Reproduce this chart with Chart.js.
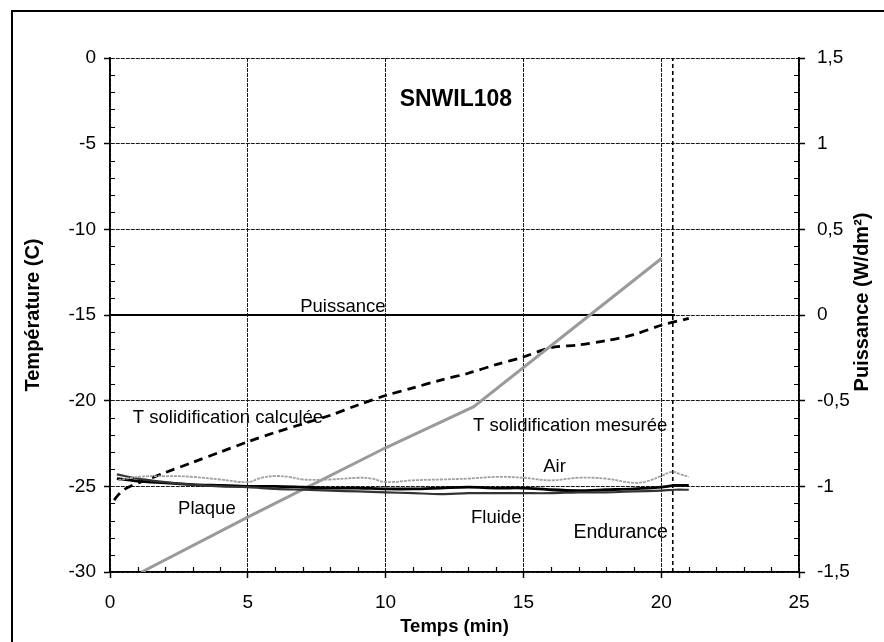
<!DOCTYPE html>
<html>
<head>
<meta charset="utf-8">
<title>SNWIL108</title>
<script src="https://cdn.jsdelivr.net/npm/chart.js@4.4.0/dist/chart.umd.min.js"></script>
<style>
  html, body { margin: 0; padding: 0; background: #fff; }
  canvas { display: block; }
</style>
</head>
<body>
<canvas id="chart" width="884" height="642"></canvas>
<script>
// --- Series (time in min, temperature in C, power in W/dm2) ---
const calcTimes = [0.15, 0.3, 0.5, 0.8, 1.2, 2, 3, 4, 5, 6, 7, 8, 9, 10, 11, 12, 13, 14, 15, 16, 17, 18, 19, 20, 21];
const calcTemps = [-25.8, -25.5, -25.2, -24.95, -24.7, -24.2, -23.6, -23.0, -22.4, -21.85, -21.35, -20.85, -20.25, -19.7, -19.25, -18.8, -18.4, -17.9, -17.45, -16.9, -16.75, -16.5, -16.15, -15.6, -15.2];

const mesTimes = [1.15, 5, 10, 13.2, 20.02];
const mesTemps = [-30, -26.8, -22.75, -20.35, -11.69];

const airTimes = [0.3, 1, 2, 3, 4, 5, 5.5, 6, 6.5, 7, 8, 9, 9.5, 10, 11, 12, 13, 14, 15, 16, 17, 18, 19, 19.5, 20, 20.4, 20.7, 21];
const airTemps = [-24.65, -24.45, -24.4, -24.45, -24.6, -24.75, -24.5, -24.4, -24.45, -24.6, -24.6, -24.5, -24.55, -24.75, -24.65, -24.6, -24.55, -24.45, -24.5, -24.65, -24.5, -24.55, -24.8, -24.7, -24.4, -24.15, -24.3, -24.45];

const probeTimes = [0.25, 1, 2, 3, 4, 5, 6, 7, 8, 9, 10, 11, 12, 13, 14, 15, 16, 17, 18, 19, 20, 20.5, 21];
const plaqueTemps = [-24.55, -24.7, -24.8, -24.9, -24.95, -25.0, -25.0, -25.05, -25.1, -25.1, -25.15, -25.15, -25.1, -25.05, -25.1, -25.1, -25.2, -25.25, -25.2, -25.15, -25.05, -24.95, -24.95];
const fluideTemps = [-24.3, -24.55, -24.75, -24.9, -25.0, -25.05, -25.15, -25.2, -25.25, -25.3, -25.35, -25.4, -25.45, -25.4, -25.4, -25.4, -25.4, -25.35, -25.35, -25.3, -25.25, -25.2, -25.2];

const puissanceTimes = [0, 20.5];
const puissanceValues = [0, 0];

const enduranceTime = 20.42;
const enduranceSpan = [-30, 0];

// in-plot labels, placed in data units (x: min, y: C)
const notes = [
  { text: 'SNWIL108', x: 12.55, y: -2.45, align: 'center', bold: true, size: 23 },
  { text: 'Puissance', x: 6.9, y: -14.55, align: 'left' },
  { text: 'T solidification calculée', x: 0.83, y: -21.0, align: 'left' },
  { text: 'T solidification mesurée', x: 13.17, y: -21.45, align: 'left' },
  { text: 'Air', x: 15.72, y: -23.88, align: 'left' },
  { text: 'Plaque', x: 2.47, y: -26.33, align: 'left' },
  { text: 'Fluide', x: 13.1, y: -26.85, align: 'left' },
  { text: 'Endurance', x: 20.24, y: -27.73, align: 'right', size: 19.5 }
];

const FONT = '"Liberation Sans", Arial, sans-serif';
const pts = (xs, ys) => xs.map((x, i) => ({ x: x, y: ys[i] }));

// frame, axis titles, minor ticks and labels
const decorations = {
  id: 'decorations',
  beforeDraw(chart) {
    const ctx = chart.ctx;
    ctx.save();
    ctx.fillStyle = '#fff';
    ctx.fillRect(0, 0, chart.width, chart.height);
    ctx.strokeStyle = '#000';
    ctx.lineWidth = 2;
    ctx.beginPath();
    ctx.moveTo(12, chart.height);
    ctx.lineTo(12, 11);
    ctx.lineTo(chart.width, 11);
    ctx.stroke();
    ctx.restore();
  },
  afterDraw(chart) {
    const ctx = chart.ctx;
    const { left, right, top, bottom } = chart.chartArea;
    const x = chart.scales.x, y = chart.scales.y, y1 = chart.scales.y1;
    ctx.save();
    ctx.strokeStyle = '#000';
    ctx.lineWidth = 1.2;
    ctx.beginPath();
    for (let v = -29; v < 0; v++) {
      if (v % 5 === 0) continue;
      const py = Math.round(y.getPixelForValue(v)) + 0.5;
      ctx.moveTo(left, py); ctx.lineTo(left + 5, py);
    }
    for (let k = -14; k < 15; k++) {
      if (k % 5 === 0) continue;
      const py = Math.round(y1.getPixelForValue(k / 10)) + 0.5;
      ctx.moveTo(right, py); ctx.lineTo(right - 5, py);
    }
    for (let v = 1; v < 25; v++) {
      if (v % 5 === 0) continue;
      const px = Math.round(x.getPixelForValue(v)) + 0.5;
      ctx.moveTo(px, bottom); ctx.lineTo(px, bottom - 5);
    }
    ctx.stroke();

    // axis titles
    ctx.fillStyle = '#000';
    ctx.textAlign = 'center';
    ctx.textBaseline = 'middle';
    ctx.font = 'bold 18.5px ' + FONT;
    ctx.fillText('Temps (min)', (left + right) / 2, bottom + 55);
    ctx.font = 'bold 20px ' + FONT;
    ctx.save();
    ctx.translate(left - 77, (top + bottom) / 2);
    ctx.rotate(-Math.PI / 2);
    ctx.fillText('Température (C)', 0, 0);
    ctx.restore();
    ctx.save();
    ctx.translate(right + 63, (top + bottom) / 2 - 13);
    ctx.rotate(-Math.PI / 2);
    ctx.fillText('Puissance (W/dm²)', 0, 0);
    ctx.restore();

    // labels inside the plot
    notes.forEach(n => {
      ctx.font = (n.bold ? 'bold ' : '') + (n.size || 18.5) + 'px ' + FONT;
      ctx.textAlign = n.align;
      ctx.fillText(n.text, x.getPixelForValue(n.x), y.getPixelForValue(n.y));
    });
    ctx.restore();
  }
};

const gridStyle = { color: '#1a1a1a', lineWidth: 1, tickLength: 6, tickColor: '#000', tickWidth: 1.5 };
const tickFont = { family: FONT, size: 19 };

new Chart(document.getElementById('chart'), {
  type: 'line',
  data: {
    datasets: [
      { label: 'Air', data: pts(airTimes, airTemps), borderColor: '#a0a0a0', borderWidth: 1.8, borderDash: [3, 1], tension: 0.4, yAxisID: 'y' },
      { label: 'Fluide', data: pts(probeTimes, fluideTemps), borderColor: '#333', borderWidth: 2.2, tension: 0.3, yAxisID: 'y' },
      { label: 'Plaque', data: pts(probeTimes, plaqueTemps), borderColor: '#000', borderWidth: 2.8, tension: 0.3, yAxisID: 'y' },
      { label: 'T solidification mesurée', data: pts(mesTimes, mesTemps), borderColor: '#9a9a9a', borderWidth: 3, tension: 0, yAxisID: 'y' },
      { label: 'T solidification mesurée (centre)', data: pts(mesTimes, mesTemps), borderColor: '#f4f4f4', borderWidth: 1.2, tension: 0, yAxisID: 'y' },
      { label: 'T solidification calculée', data: pts(calcTimes, calcTemps), borderColor: '#000', borderWidth: 2.8, borderDash: [9, 6], tension: 0.3, yAxisID: 'y' },
      { label: 'Puissance', data: pts(puissanceTimes, puissanceValues), borderColor: '#000', borderWidth: 1.8, tension: 0, yAxisID: 'y1' },
      { label: 'Endurance', data: enduranceSpan.map(v => ({ x: enduranceTime, y: v })), borderColor: '#000', borderWidth: 1.6, borderDash: [4, 3], tension: 0, yAxisID: 'y' }
    ]
  },
  options: {
    responsive: false,
    animation: false,
    devicePixelRatio: 1,
    layout: { padding: { top: 58, left: 0, right: 0, bottom: 0 } },
    elements: { point: { radius: 0 } },
    plugins: { legend: { display: false }, tooltip: { enabled: false } },
    scales: {
      x: {
        type: 'linear', min: 0, max: 25,
        ticks: { stepSize: 5, color: '#000', font: tickFont, padding: 13, maxRotation: 0 },
        grid: gridStyle,
        border: { display: true, color: '#000', width: 1.8, dash: [4, 1] },
        afterFit: s => { s.height = 70; }
      },
      y: {
        position: 'left', min: -30, max: 0,
        ticks: { stepSize: 5, color: '#000', font: tickFont, padding: 8 },
        grid: gridStyle,
        border: { display: true, color: '#000', width: 1.8, dash: [4, 1] },
        afterFit: s => { s.width = 110; }
      },
      y1: {
        position: 'right', min: -1.5, max: 1.5,
        ticks: { stepSize: 0.5, color: '#000', font: tickFont, padding: 12,
          callback: v => String(v).replace('.', ',') },
        grid: { drawOnChartArea: false, tickLength: 6, tickColor: '#000', tickWidth: 1.5 },
        border: { display: true, color: '#000', width: 1.8 },
        afterFit: s => { s.width = 85; }
      }
    }
  },
  plugins: [decorations]
});
</script>
</body>
</html>
